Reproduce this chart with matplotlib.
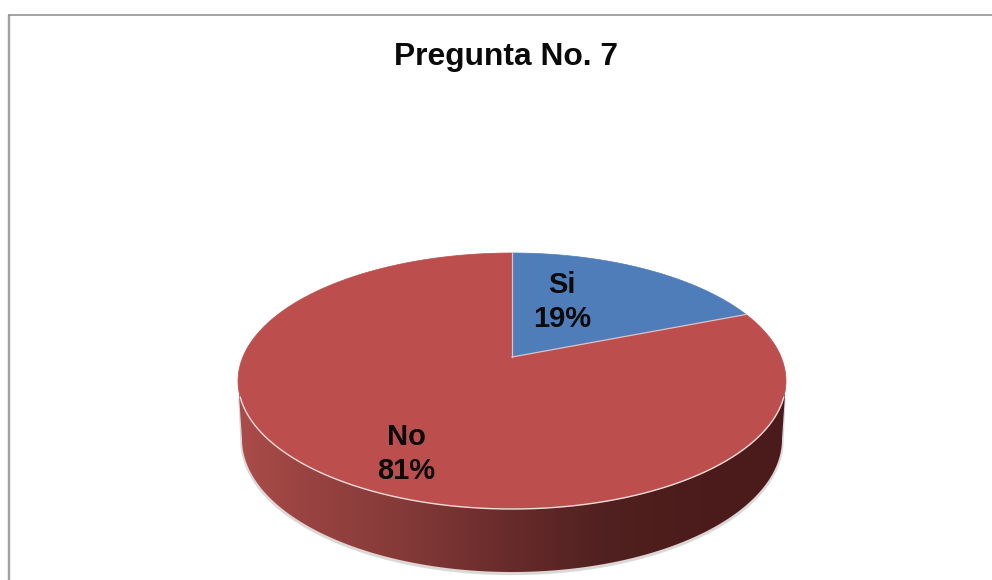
import matplotlib
matplotlib.use("Agg")
import matplotlib.pyplot as plt
import numpy as np
from matplotlib.colors import LinearSegmentedColormap
from matplotlib.patches import Polygon

plt.rcParams['font.family'] = ['Liberation Sans', 'DejaVu Sans']

title = "Pregunta No. 7"
labels = ["Si", "No"]
values = [19, 81]
colors = ["#4f7dba", "#bc4f4d"]
label_pos = [(562, 302), (406, 454)]

# ellipse of the pie top, in pixels
cx, cy = 512, 381
rx, ry = 274, 128
apex_shift = 24   # centre of the pie sits above the ellipse centre (perspective)
# bottom edge of the disc is its own ellipse
low_cy, low_rx, low_ry = 439, 270, 133


def project(theta):
    # clockwise angle from 12 o'clock on the unit circle -> image pixels
    u, v = np.sin(theta), np.cos(theta)
    k = apex_shift / ry
    w = 1 + k * v
    a = rx * np.sqrt(1 - (apex_shift / ry) ** 2)
    return cx + a * u / w, cy - (ry * v + apex_shift) / w


def wedge_points(start, stop):
    t = np.linspace(start, stop, 200)
    x, y = project(t)
    return np.column_stack([np.r_[cx, x], np.r_[cy - apex_shift, y]])


fig = plt.figure(figsize=(9.92, 5.8), dpi=100)
ax = fig.add_axes([0, 0, 1, 1])
ax.set_xlim(0, 992)
ax.set_ylim(580, 0)
ax.axis("off")

# chart frame, only top and left show in the crop
ax.plot([9.3, 9.3], [580, 15], color="#a0a0a0", lw=1.7, solid_capstyle="butt")
ax.plot([8, 992], [14.8, 14.8], color="#8a8a8a", lw=1.1, solid_capstyle="butt")

# side of the disc
t = np.linspace(np.pi, 2 * np.pi, 300)
low_x = cx + low_rx * np.cos(t)
low_y = low_cy - low_ry * np.sin(t)
side = np.column_stack([np.r_[239, low_x, 785], np.r_[395, low_y, 395]])

ax.plot(np.r_[240, low_x, 784], np.r_[400, low_y + 1.5, 400], color="#bcc4c0", lw=2.4, alpha=0.6)
ax.plot(low_x, low_y + 0.5, color="#e6d3d0", lw=1.0)

side_cmap = LinearSegmentedColormap.from_list(
    "side",
    [(0.0, "#ab4c49"), (0.11, "#9a4442"), (0.3, "#843a38"), (0.48, "#6a2c2c"),
     (0.67, "#512020"), (0.85, "#4b1c1b"), (1.0, "#4a1b1a")],
)
grad = np.linspace(0, 1, 256).reshape(1, -1)
im = ax.imshow(grad, extent=[239, 785, 580, 380], cmap=side_cmap, aspect="auto", zorder=2)
patch = Polygon(side, closed=True, transform=ax.transData, fc="none", ec="none")
ax.add_patch(patch)
im.set_clip_path(patch)
ax.set_xlim(0, 992)
ax.set_ylim(580, 0)

# top of the disc
fractions = np.cumsum([0] + values) / sum(values)
for i, col in enumerate(colors):
    pts = wedge_points(2 * np.pi * fractions[i], 2 * np.pi * fractions[i + 1])
    ax.add_patch(Polygon(pts, closed=True, fc=col, ec=col, lw=0.5, zorder=3))

# thin light rim on the front edge and slice edges
rim_t = np.linspace(np.pi * 0.96, np.pi * 0.04, 300)
ax.plot(cx + rx * np.cos(rim_t), cy + ry * np.sin(rim_t), color="#f0dcd8", lw=1.0, zorder=4)
for f in fractions[:2]:
    ex, ey = project(np.array([2 * np.pi * f]))
    ax.plot([cx, ex[0]], [cy - apex_shift, ey[0]], color="#d9c3cc", lw=0.9, zorder=4)

ax.text(506, 57, title, ha="center", va="center", fontsize=22.9, fontweight="bold", color="#0a0a0a")
for lab, val, (x, y) in zip(labels, values, label_pos):
    ax.text(x, y, f"{lab}\n{val}%", ha="center", va="center", fontsize=21,
            fontweight="bold", color="#0a0a0a", linespacing=1.27, zorder=5)

fig.savefig("out.png", dpi=100, facecolor="white")
plt.close(fig)
